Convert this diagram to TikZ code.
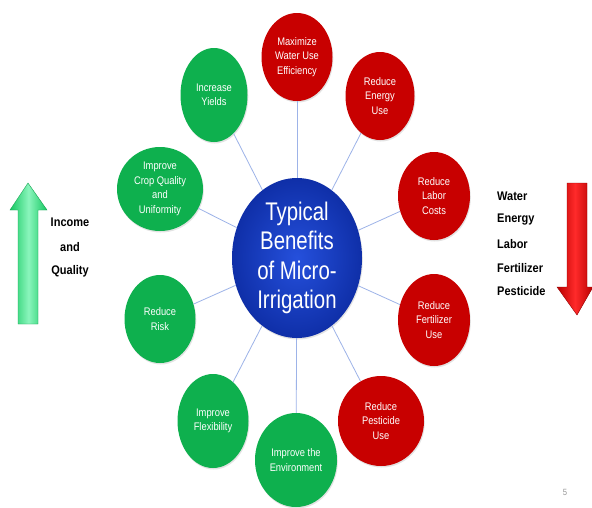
\documentclass[tikz,border=0pt]{standalone}
\usepackage{fontspec}
\setmainfont{Liberation Sans}
\newfontfamily\nar[FakeStretch=0.85]{Liberation Sans}
\newfontfamily\cnar[FakeStretch=0.8]{Liberation Sans}
\newfontfamily\sidefont[FakeStretch=0.88]{Liberation Sans}
\usetikzlibrary{shapes.geometric,shadows}
\definecolor{cgreen}{HTML}{0EB04E}
\definecolor{cred}{HTML}{C80000}
\definecolor{linkblue}{HTML}{9DB3E8}
\definecolor{hubin}{HTML}{2550DC}
\definecolor{hubout}{HTML}{0F2FA8}
\definecolor{arrg}{HTML}{16C862}
\definecolor{arrgl}{HTML}{8AF5BC}
\definecolor{arrr}{HTML}{B80000}
\definecolor{arrrl}{HTML}{FF2A2A}
\tikzset{
  benefit/.style={ellipse, inner sep=0pt, text=white, align=center,
    font=\nar\fontsize{11}{14.5}\selectfont,
    drop shadow={opacity=0.22, shadow xshift=0.8pt, shadow yshift=-1.5pt}},
  gben/.style={benefit, fill=cgreen},
  rben/.style={benefit, fill=cred},
  hub/.style={ellipse, inner sep=0pt, text=white, align=center,
    minimum width=130pt, minimum height=160pt,
    shading=radial, inner color=hubin, outer color=hubout,
    font=\cnar\fontsize{25.5}{29.5}\selectfont,
    drop shadow={opacity=0.22, shadow xshift=0.8pt, shadow yshift=-1.5pt}},
  link/.style={draw=linkblue, line width=0.8pt},
  sidetxt/.style={font=\sidefont\bfseries\fontsize{12.5}{14}\selectfont, text=black, inner sep=0pt}
}
\begin{document}
\begin{tikzpicture}[x=1pt,y=-1pt]
\useasboundingbox (0,0) rectangle (592,507);
\fill[white] (0,0) rectangle (592,507);

% hub
\node[hub] (hub) at (297,258) {Typical\\Benefits\\of Micro-\\Irrigation};

% benefits
\node[rben, minimum width=71pt, minimum height=88pt] (water) at (297,57) {Maximize\\Water Use\\Efficiency};
\node[rben, minimum width=69pt, minimum height=88pt] (energy) at (380,96) {Reduce\\Energy\\Use};
\node[rben, minimum width=72pt, minimum height=88pt] (labor) at (434,196) {Reduce\\Labor\\Costs};
\node[rben, minimum width=72pt, minimum height=92pt] (fert) at (434,320) {Reduce\\Fertilizer\\Use};
\node[rben, minimum width=86pt, minimum height=90pt] (pest) at (381,421) {Reduce\\Pesticide\\Use};
\node[gben, minimum width=82pt, minimum height=94pt] (env) at (296,460) {Improve the\\Environment};
\node[gben, minimum width=71pt, minimum height=94pt] (flex) at (213,421) {Improve\\Flexibility};
\node[gben, minimum width=71pt, minimum height=88pt] (risk) at (160,319) {Reduce\\Risk};
\node[gben, minimum width=86pt, minimum height=84pt] (crop) at (160,189) {Improve\\Crop Quality\\and\\Uniformity};
\node[gben, minimum width=67pt, minimum height=94pt] (yield) at (214,95) {Increase\\Yields};

% connectors
\foreach \n in {water,energy,labor,fert,pest,env,flex,risk,crop,yield}
  \draw[link] (hub) -- (\n);

% green up arrow
\shade[left color=arrg, right color=arrg, middle color=arrgl,
  draw=arrg!80!black, line width=0.4pt]
  (18,324) -- (18,210) -- (10,210) -- (28,183) -- (47,210) -- (38,210) -- (38,324) -- cycle;
\node[sidetxt] (inc) at (70,222) {Income};
\node[sidetxt] (and) at (70,247) {and};
\node[sidetxt] (qual) at (70,271) {Quality};

% red down arrow
\shade[left color=arrr, right color=arrr, middle color=arrrl,
  draw=arrr!80!black, line width=0.4pt]
  (567,183) -- (587,183) -- (587,287) -- (593,287) -- (577,315) -- (557,287) -- (567,287) -- cycle;
\node[sidetxt, anchor=west] (w1) at (497,196) {Water};
\node[sidetxt, anchor=west] (w2) at (497,220) {Energy};
\node[sidetxt, anchor=west] (w3) at (497,244) {Labor};
\node[sidetxt, anchor=west] (w4) at (497,268) {Fertilizer};
\node[sidetxt, anchor=west] (w5) at (497,291) {Pesticide};

% page number
\node[text=black!40, font=\nar\fontsize{9}{10}\selectfont] (pg) at (565,492) {5};
\end{tikzpicture}
\end{document}
